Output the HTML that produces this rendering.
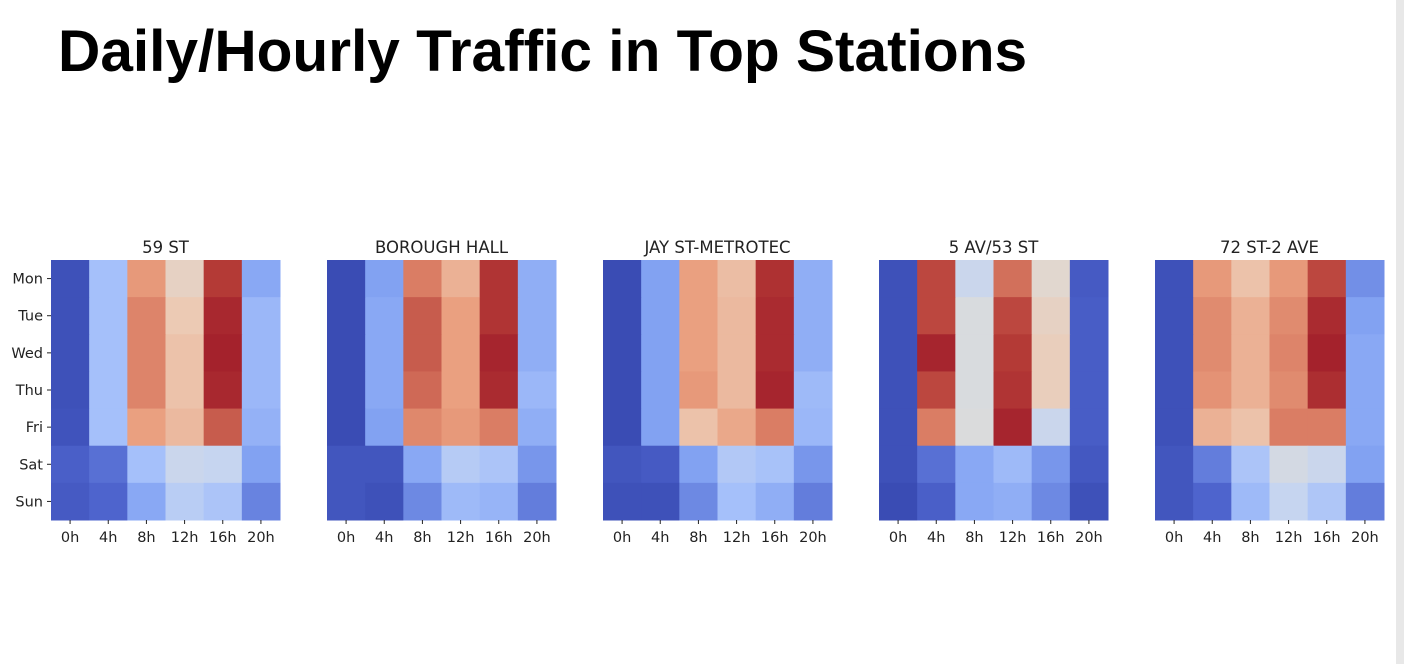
<!DOCTYPE html>
<html><head><meta charset="utf-8">
<style>
body{margin:0;background:#fff;width:1404px;height:664px;overflow:hidden;font-family:"DejaVu Sans","Liberation Sans",sans-serif;}
#title{position:absolute;left:58px;top:18px;font:bold 58.6px "Liberation Sans",sans-serif;color:#000;white-space:nowrap;}
#bar{position:absolute;left:1396px;top:0;width:8px;height:664px;background:#e8e8e8;}
</style></head>
<body>
<div id="title">Daily/Hourly Traffic in Top Stations</div>
<div id="bar"></div>
<svg id="chart" width="1404" height="664" style="position:absolute;left:0;top:0"></svg>
<script>
const stations=["59 ST","BOROUGH HALL","JAY ST-METROTEC","5 AV/53 ST","72 ST-2 AVE"];
const days=["Mon","Tue","Wed","Thu","Fri","Sat","Sun"];
const hours=["0h","4h","8h","12h","16h","20h"];
const s59=[[0.02,0.3,0.72,0.56,0.9,0.22],[0.02,0.3,0.78,0.6,0.96,0.27],[0.02,0.3,0.78,0.62,0.98,0.27],[0.02,0.3,0.78,0.62,0.96,0.27],[0.03,0.3,0.7,0.64,0.85,0.25],[0.08,0.12,0.3,0.42,0.4,0.2],[0.06,0.1,0.22,0.36,0.32,0.15]];
const sBorough=[[0,0.2,0.8,0.66,0.92,0.24],[0,0.22,0.85,0.7,0.92,0.24],[0,0.22,0.85,0.7,0.97,0.24],[0,0.22,0.83,0.7,0.95,0.27],[0,0.2,0.77,0.72,0.8,0.24],[0.04,0.04,0.22,0.35,0.32,0.18],[0.04,0.02,0.16,0.28,0.26,0.14]];
const sJay=[[0,0.2,0.7,0.63,0.93,0.24],[0,0.2,0.7,0.64,0.95,0.24],[0,0.2,0.7,0.64,0.95,0.24],[0,0.2,0.72,0.64,0.97,0.28],[0,0.2,0.62,0.68,0.8,0.27],[0.04,0.06,0.2,0.34,0.31,0.18],[0.02,0.02,0.16,0.3,0.24,0.14]];
const s5av=[[0.02,0.88,0.42,0.82,0.53,0.06],[0.02,0.88,0.48,0.88,0.56,0.07],[0.02,0.97,0.48,0.9,0.58,0.07],[0.02,0.88,0.48,0.92,0.58,0.07],[0.02,0.8,0.49,0.97,0.42,0.07],[0.02,0.12,0.22,0.28,0.18,0.05],[0,0.08,0.22,0.24,0.16,0.02]];
const s72=[[0.02,0.72,0.62,0.72,0.88,0.17],[0.02,0.76,0.66,0.76,0.95,0.2],[0.02,0.76,0.66,0.78,0.98,0.22],[0.02,0.74,0.66,0.76,0.94,0.22],[0.02,0.66,0.62,0.8,0.8,0.22],[0.04,0.14,0.32,0.46,0.42,0.2],[0.04,0.1,0.28,0.4,0.33,0.14]];
const allData=[s59,sBorough,sJay,s5av,s72];

const stops=[[0,58,76,180],[0.1,78,100,205],[0.2,130,162,242],[0.3,165,192,250],[0.4,198,213,240],[0.5,220,220,218],[0.6,236,202,180],[0.7,234,160,128],[0.8,218,125,100],[0.9,180,58,54],[1,160,28,42]];
function cw(v){v=Math.max(0,Math.min(1,v));for(let i=1;i<stops.length;i++){if(v<=stops[i][0]){const a=stops[i-1],b=stops[i],t=(v-a[0])/(b[0]-a[0]);return `rgb(${[1,2,3].map(k=>Math.round(a[k]+(b[k]-a[k])*t)).join(',')})`;}}}
const NS="http://www.w3.org/2000/svg";
const svg=document.getElementById('chart');
const x0=51,dx=276,W=229,y0=260,H=260;
function mk(tag,attrs,txt){const e=document.createElementNS(NS,tag);for(const k in attrs)e.setAttribute(k,attrs[k]);if(txt!==undefined)e.textContent=txt;svg.appendChild(e);return e;}
stations.forEach((st,p)=>{
  const left=x0+p*dx,cwid=W/hours.length,ch=H/days.length;
  const t=mk('text',{x:left+W/2,y:y0-7,'text-anchor':'middle','font-size':'16.5','fill':'#222'},st);
  
  
  allData[p].forEach((row,r)=>row.forEach((v,c)=>{
    const rc=mk('rect',{x:left+c*cwid,y:y0+r*ch,width:cwid+0.5,height:ch+0.5,fill:cw(v)});
    
    
  }));
  hours.forEach((h,c)=>{
    const tx=mk('text',{x:left+(c+0.5)*cwid,y:y0+H+22,'text-anchor':'middle','font-size':'14.5','fill':'#222'},h);
    
    
    mk('line',{x1:left+(c+0.5)*cwid,x2:left+(c+0.5)*cwid,y1:y0+H,y2:y0+H+4,stroke:'#222','stroke-width':1});
  });
  if(p===0){days.forEach((d,r)=>{
    const ty=mk('text',{x:left-8,y:y0+(r+0.5)*ch+5,'text-anchor':'end','font-size':'14.5','fill':'#222'},d);
    
    
    mk('line',{x1:left-4,x2:left,y1:y0+(r+0.5)*ch,y2:y0+(r+0.5)*ch,stroke:'#222','stroke-width':1});
  });}
});
</script>
</body></html>
